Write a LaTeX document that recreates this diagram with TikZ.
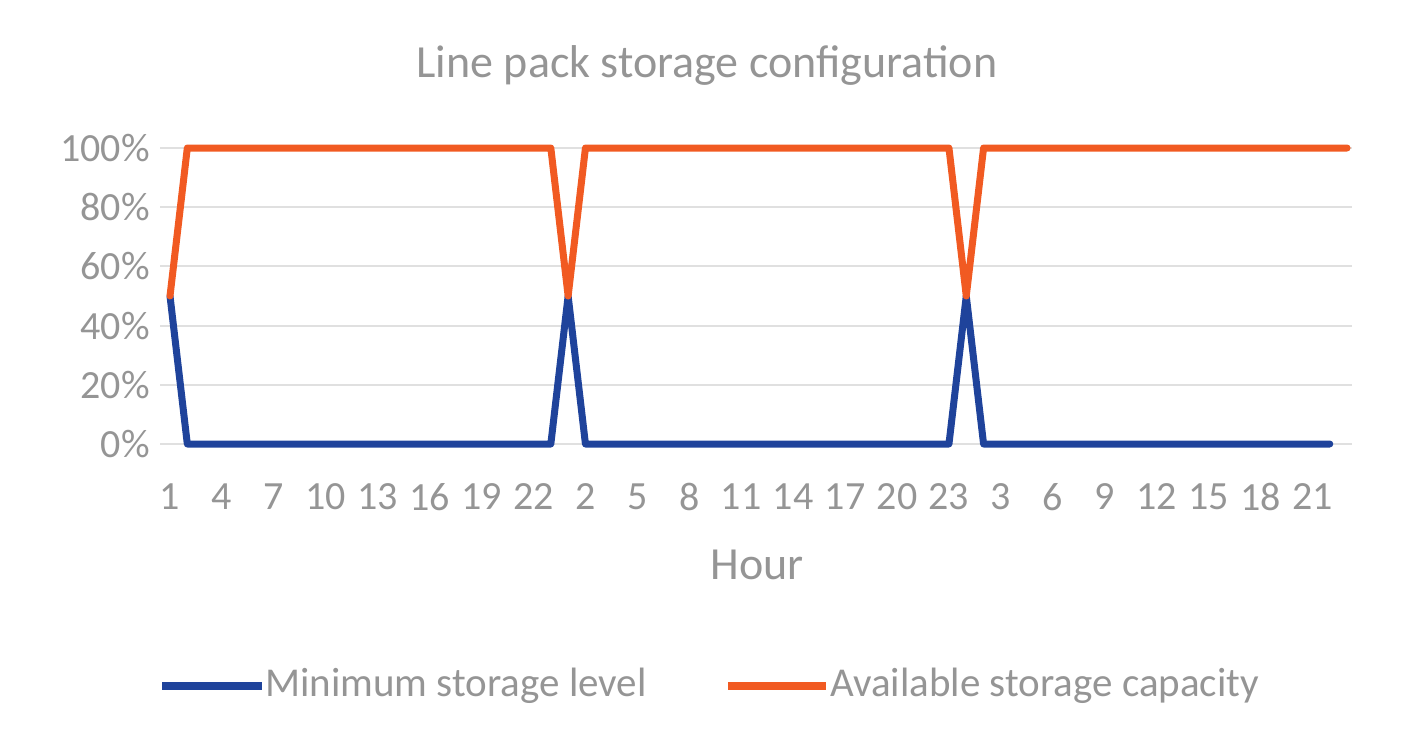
\documentclass[tikz,border=0pt]{standalone}
\usepackage{fontspec}
\setmainfont{Carlito}
\definecolor{txt}{HTML}{959595}
\definecolor{grid}{HTML}{E0E0E0}
\definecolor{blu}{HTML}{1F439B}
\definecolor{org}{HTML}{F15A22}
\begin{document}
\begin{tikzpicture}[x=1pt,y=-1pt,
  lbl/.style={text=txt,font=\fontsize{40}{42}\selectfont,inner sep=0pt},
  ser/.style={line width=7pt,line join=round,line cap=round}]
\useasboundingbox (0,0) rectangle (1414,753);
\def\dx{17.31}
\foreach \p/\t in {0/0\%,20/20\%,40/40\%,60/60\%,80/80\%,100/100\%}{
  \pgfmathsetmacro\yy{444-2.96*\p}
  \draw[grid,line width=2pt] (160,\yy) -- (1352,\yy);
  \node[lbl,anchor=east] (y\p) at (150,\yy) {\t};
}
% x labels
\foreach \i/\t in {0/1,3/4,6/7,9/10,12/13,15/16,18/19,21/22,24/2,27/5,30/8,33/11,36/14,39/17,42/20,45/23,48/3,51/6,54/9,57/12,60/15,63/18,66/21}{
  \node[lbl] (x\i) at ({170+\i*\dx},497) {\t};
}
% blue series
\draw[ser,blu] (170,296) -- ({170+\dx},444) -- ({170+22*\dx},444) -- ({170+23*\dx},296) -- ({170+24*\dx},444) -- ({170+45*\dx},444) -- ({170+46*\dx},296) -- ({170+47*\dx},444) -- ({170+67*\dx},444);
% orange series
\draw[ser,org] (170,296) -- ({170+\dx},148) -- ({170+22*\dx},148) -- ({170+23*\dx},296) -- ({170+24*\dx},148) -- ({170+45*\dx},148) -- ({170+46*\dx},296) -- ({170+47*\dx},148) -- ({170+68*\dx},148);
\node[lbl,font=\fontsize{46}{48}\selectfont] (title) at (707,65) {Line pack storage configuration};
\node[lbl,font=\fontsize{46}{48}\selectfont] (xt) at (757,565) {Hour};
\draw[blu,line width=8pt] (162,686) -- (262,686);
\node[lbl,anchor=west,font=\fontsize{41}{43}\selectfont] (l1) at (265,686) {Minimum storage level};
\draw[org,line width=8pt] (728,686) -- (826,686);
\node[lbl,anchor=west,font=\fontsize{41}{43}\selectfont] (l2) at (830,686) {Available storage capacity};
\end{tikzpicture}
\end{document}
